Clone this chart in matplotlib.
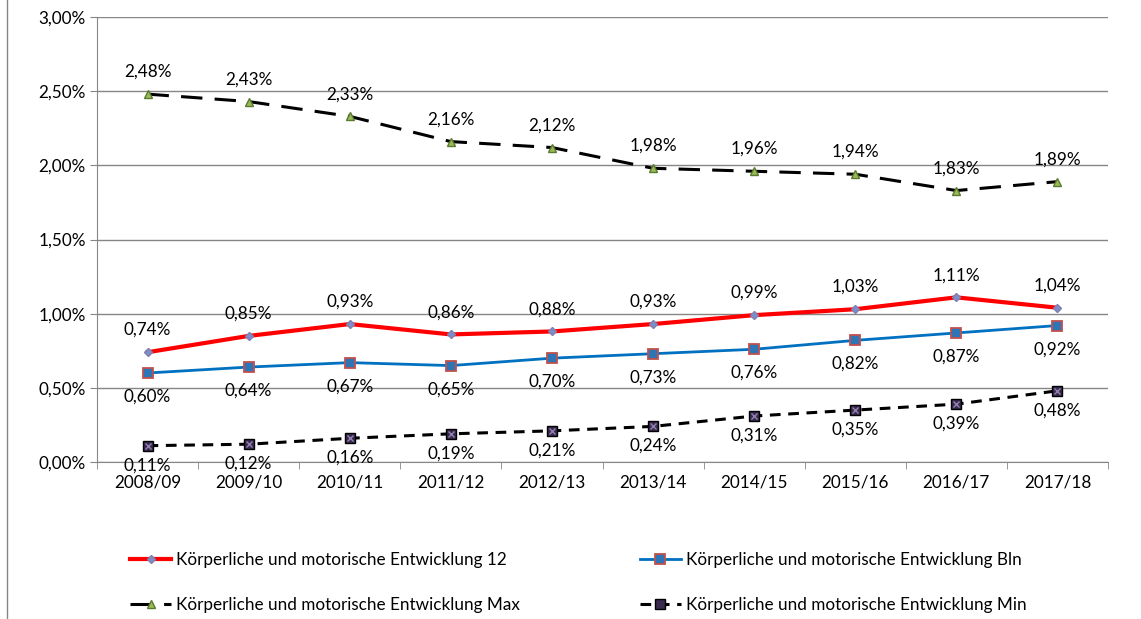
import matplotlib
matplotlib.use('agg')
import matplotlib.pyplot as plt
from matplotlib.lines import Line2D
from matplotlib.ticker import FuncFormatter, MultipleLocator

plt.rcParams['font.family'] = ['Lato', 'DejaVu Sans']

YEARS    = ['2008/09', '2009/10', '2010/11', '2011/12', '2012/13',
            '2013/14', '2014/15', '2015/16', '2016/17', '2017/18']
VAL_12   = [0.74, 0.85, 0.93, 0.86, 0.88, 0.93, 0.99, 1.03, 1.11, 1.04]
VAL_BLN  = [0.60, 0.64, 0.67, 0.65, 0.70, 0.73, 0.76, 0.82, 0.87, 0.92]
VAL_MAX  = [2.48, 2.43, 2.33, 2.16, 2.12, 1.98, 1.96, 1.94, 1.83, 1.89]
VAL_MIN  = [0.11, 0.12, 0.16, 0.19, 0.21, 0.24, 0.31, 0.35, 0.39, 0.48]
LABELS   = ['Körperliche und motorische Entwicklung 12',
            'Körperliche und motorische Entwicklung Bln',
            'Körperliche und motorische Entwicklung Max',
            'Körperliche und motorische Entwicklung Min']

FS = 12.3


def pct(v):
    return f'{v:.2f}%'.replace('.', ',')


fig = plt.figure(figsize=(11.41, 6.19), dpi=100)
ax = fig.add_axes([97 / 1141, 1 - 462 / 619, 1011 / 1141, 445 / 619])

x = list(range(len(YEARS)))

h12, = ax.plot(x, VAL_12, color='#FF0000', lw=3, marker='D', ms=4.5,
               mfc='#7E8CC8', mec='#8080B0', zorder=4)
hbln, = ax.plot(x, VAL_BLN, color='#0070C0', lw=2, marker='s', ms=7,
                mfc='#2E75B6', mec='#C0504D', mew=1.3, zorder=4)
hmax, = ax.plot(x, VAL_MAX, color='black', lw=2.2, dashes=(7, 4), marker='^', ms=6,
                mfc='#9BBB59', mec='#5A7A30', zorder=4)
hmin, = ax.plot(x, VAL_MIN, color='black', lw=2.2, dashes=(3.5, 2.5), marker='s', ms=6.5,
                mfc='#3A2A50', mec='black', zorder=4)
ax.plot(x, VAL_MIN, ls='none', marker='x', ms=5, mec='#9080B0', mew=1, zorder=5)

# data labels
for xi, v in zip(x, VAL_12):
    ax.annotate(pct(v), (xi, v), xytext=(0, 16), textcoords='offset points',
                ha='center', va='center', fontsize=FS)
for xi, v in zip(x, VAL_BLN):
    ax.annotate(pct(v), (xi, v), xytext=(0, -17), textcoords='offset points',
                ha='center', va='center', fontsize=FS)
for xi, v in zip(x, VAL_MAX):
    ax.annotate(pct(v), (xi, v), xytext=(0, 16), textcoords='offset points',
                ha='center', va='center', fontsize=FS)
for xi, v in zip(x, VAL_MIN):
    ax.annotate(pct(v), (xi, v), xytext=(0, -14), textcoords='offset points',
                ha='center', va='center', fontsize=FS)

ax.set_xlim(-0.5, len(YEARS) - 0.5)
ax.set_ylim(0, 3.0)
ax.yaxis.set_major_locator(MultipleLocator(0.5))
ax.yaxis.set_major_formatter(FuncFormatter(lambda v, p: pct(v)))
ax.set_xticks(x)
ax.set_xticklabels(YEARS)
ax.set_xticks([i + 0.5 for i in range(-1, len(YEARS))], minor=True)
ax.tick_params(axis='x', which='major', length=0, pad=9, labelsize=FS)
ax.tick_params(axis='x', which='minor', length=5, color='#868686')
ax.tick_params(axis='y', length=5, color='#868686', labelsize=FS, pad=3)
ax.grid(axis='y', color='#868686', lw=1)
ax.set_axisbelow(True)
for s in ['top', 'right']:
    ax.spines[s].set_visible(False)
for s in ['left', 'bottom']:
    ax.spines[s].set_color('#868686')

fig.legend([h12, hmax, hbln, hmin],
           [LABELS[0], LABELS[2], LABELS[1], LABELS[3]],
           ncol=2, loc='upper left', bbox_to_anchor=(115 / 1141, 1 - 537 / 619),
           frameon=False, fontsize=FS, handlelength=2.4, handletextpad=0.3,
           columnspacing=7.0, labelspacing=1.7)

# chart area border on the left
fig.add_artist(Line2D([7 / 1141, 7 / 1141], [0, 1], color='#868686', lw=1))

fig.savefig('out.png', dpi=100)
